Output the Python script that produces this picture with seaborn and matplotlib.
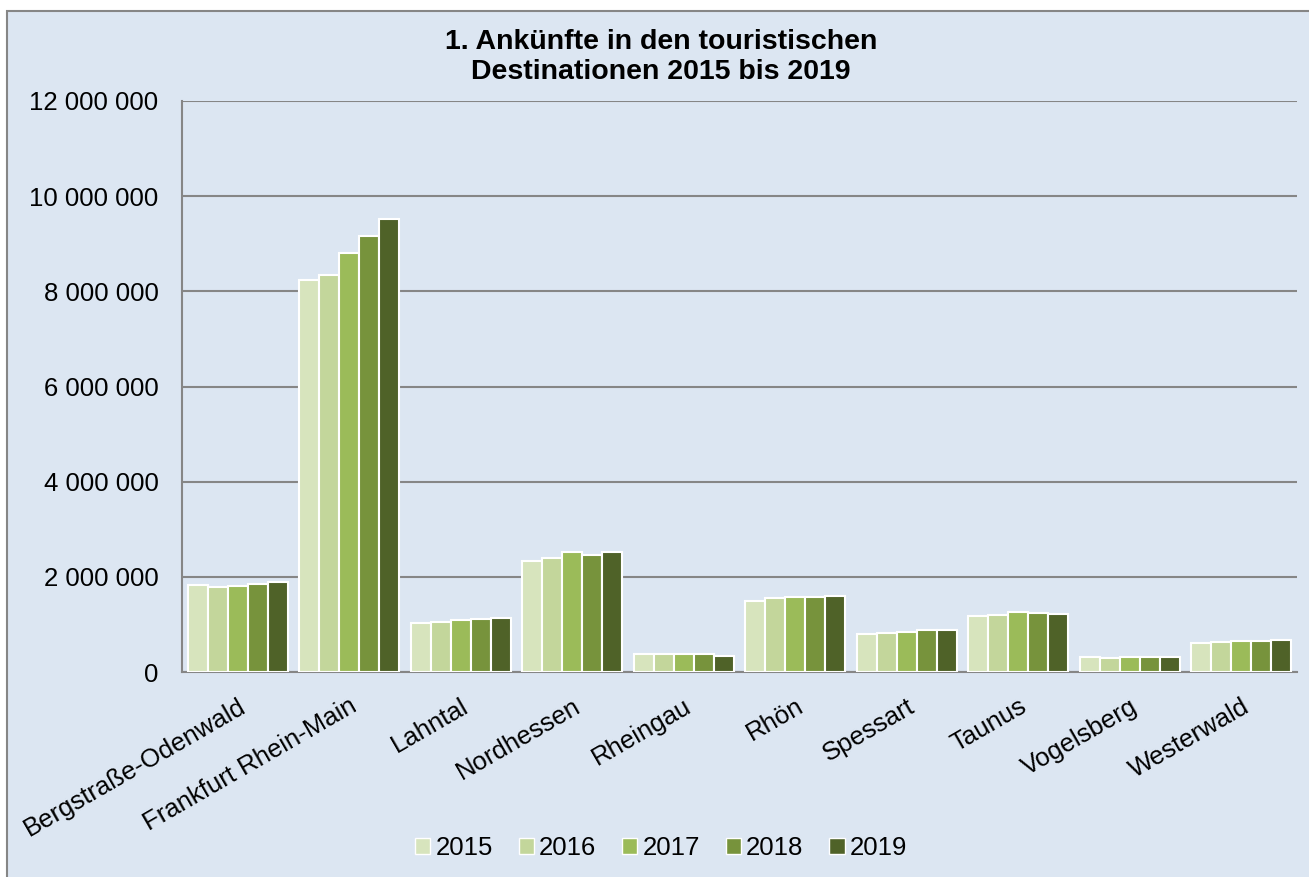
import pandas as pd
import numpy as np
import matplotlib.pyplot as plt
import seaborn as sns
from matplotlib.patches import Rectangle
from matplotlib.ticker import FuncFormatter

# Data (arrivals per destination)
regions = ["Bergstraße-Odenwald", "Frankfurt Rhein-Main", "Lahntal", "Nordhessen",
           "Rheingau", "Rhön", "Spessart", "Taunus", "Vogelsberg", "Westerwald"]
years = ["2015", "2016", "2017", "2018", "2019"]
v2015 = [1820000, 8240000, 1040000, 2340000, 370000, 1500000, 790000, 1170000, 310000, 610000]
v2016 = [1790000, 8340000, 1060000, 2400000, 370000, 1550000, 820000, 1200000, 300000, 620000]
v2017 = [1810000, 8800000, 1085000, 2520000, 370000, 1570000, 840000, 1260000, 320000, 660000]
v2018 = [1855000, 9160000, 1120000, 2460000, 370000, 1580000, 880000, 1230000, 320000, 660000]
v2019 = [1890000, 9510000, 1125000, 2520000, 345000, 1600000, 890000, 1210000, 320000, 670000]
colors = ["#D7E4BD", "#C3D69B", "#9BBB59", "#77933C", "#4F6228"]

df = pd.DataFrame({"Region": regions * 5,
                   "Jahr": np.repeat(years, len(regions)),
                   "Ankünfte": v2015 + v2016 + v2017 + v2018 + v2019})

sns.set_style("white")
plt.rcParams['font.family'] = ['Liberation Sans', 'DejaVu Sans']
plt.rcParams['text.color'] = 'black'
plt.rcParams['xtick.color'] = 'black'
plt.rcParams['ytick.color'] = 'black'

bg = "#DCE6F2"
grid = "#868686"

fig = plt.figure(figsize=(13.09, 8.77), dpi=100, facecolor="white")
fig.patches.append(Rectangle((7 / 1309, -0.01), 1.01, 1 - 11 / 877 + 0.01,
                             transform=fig.transFigure, facecolor=bg,
                             edgecolor=grid, linewidth=1.5, zorder=-5))
ax = fig.add_axes([182 / 1309, 1 - 672 / 877, (1297 - 182) / 1309, (672 - 101) / 877])
ax.set_facecolor(bg)

sns.barplot(data=df, x="Region", y="Ankünfte", hue="Jahr", palette=colors,
            saturation=1, width=0.9, edgecolor="white", linewidth=1.5, ax=ax, zorder=3)

ax.set_ylim(0, 12000000)
ax.set_yticks(np.arange(0, 12000001, 2000000))
ax.yaxis.set_major_formatter(FuncFormatter(lambda v, p: f"{int(v):,}".replace(",", " ")))
ax.grid(axis="y", color=grid, linewidth=1.5, zorder=0)
ax.set_axisbelow(True)
ax.set_xlim(-0.5, len(regions) - 0.5)

for s in ["top", "right"]:
    ax.spines[s].set_visible(False)
for s in ["left", "bottom"]:
    ax.spines[s].set_color(grid)
    ax.spines[s].set_linewidth(1.5)

ax.tick_params(axis="y", labelsize=18.5, length=7, width=1.5, color=grid, pad=10)
ax.set_xticks(np.arange(len(regions)))
ax.set_xticklabels(regions, rotation=30, ha="right", va="top",
                   rotation_mode="anchor", fontsize=18.5)
ax.tick_params(axis="x", length=0, pad=16)
ax.set_xticks(np.arange(-0.5, len(regions)), minor=True)
ax.tick_params(axis="x", which="minor", length=7, width=1.5, color=grid)
ax.set_xlabel("")
ax.set_ylabel("")

ax.legend_.remove()
handles = [Rectangle((0, 0), 1, 1, facecolor=c, edgecolor="white") for c in colors]
fig.legend(handles, years, loc="center", bbox_to_anchor=(0.505, 1 - 848 / 877),
           ncol=5, frameon=False, fontsize=18.5, handlelength=0.6, handleheight=0.6,
           handletextpad=0.2, columnspacing=1.0)

fig.text(0.505, 1 - 57 / 877, "1. Ankünfte in den touristischen\nDestinationen 2015 bis 2019",
         ha="center", va="center", fontsize=20.5, fontweight="bold", linespacing=1.2)

fig.savefig("out.png", dpi=100, facecolor="white")
